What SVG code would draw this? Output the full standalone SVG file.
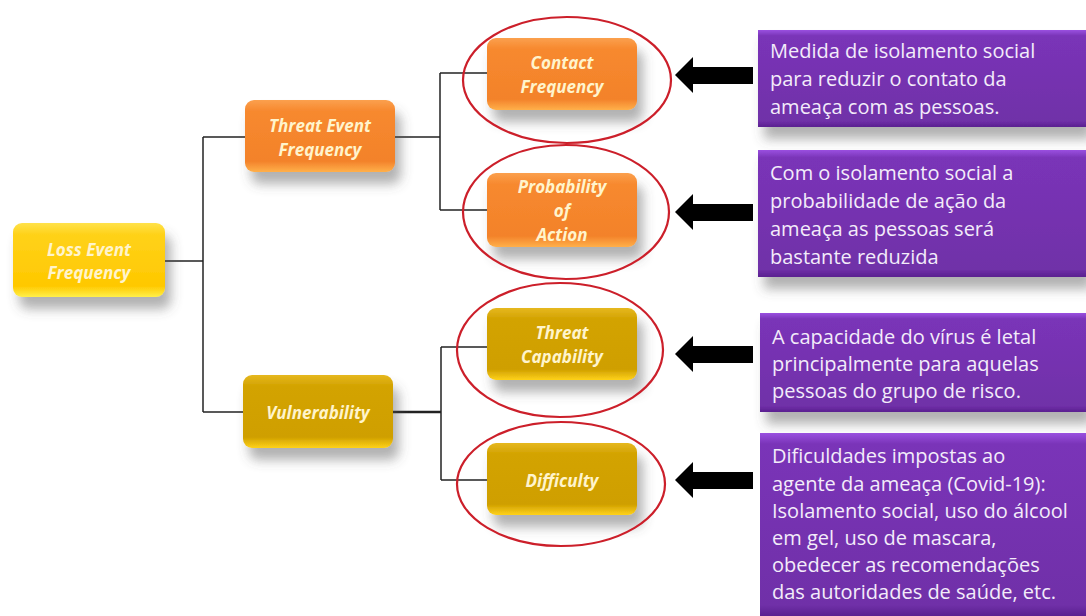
<svg xmlns="http://www.w3.org/2000/svg" width="1086" height="616" viewBox="0 0 1086 616">
<defs>
<linearGradient id="gYellow" x1="0" y1="0" x2="0" y2="1">
<stop offset="0" stop-color="#ffe24a"/><stop offset="0.15" stop-color="#ffd21a"/><stop offset="0.85" stop-color="#ffc800"/><stop offset="1" stop-color="#fff04a"/>
</linearGradient>
<linearGradient id="gOrange" x1="0" y1="0" x2="0" y2="1">
<stop offset="0" stop-color="#fba04e"/><stop offset="0.15" stop-color="#f7892f"/><stop offset="0.85" stop-color="#f3822a"/><stop offset="1" stop-color="#ffb04a"/>
</linearGradient>
<linearGradient id="gGold" x1="0" y1="0" x2="0" y2="1">
<stop offset="0" stop-color="#e6b820"/><stop offset="0.15" stop-color="#d3a300"/><stop offset="0.85" stop-color="#cf9f00"/><stop offset="1" stop-color="#ffd21a"/>
</linearGradient>
<linearGradient id="gPurple" x1="0" y1="0" x2="0" y2="1">
<stop offset="0" stop-color="#9a50e0"/><stop offset="0.06" stop-color="#7a34b8"/><stop offset="0.94" stop-color="#7030a8"/><stop offset="1" stop-color="#5a2090"/>
</linearGradient>
<filter id="sh" x="-20%" y="-20%" width="150%" height="170%">
<feDropShadow dx="6" dy="12" stdDeviation="6" flood-color="#555" flood-opacity="0.45"/>
</filter>
</defs>
<style>
.node text{font-family:"Open Sans","Noto Sans",sans-serif;font-weight:bold;font-style:italic;font-size:17px;fill:#fff4cc;text-anchor:middle}
.conn line{stroke:#222;stroke-width:1.5}
.ell{fill:none;stroke:#cc1f2a;stroke-width:2.2}
.note text{font-family:"Open Sans","Noto Sans",sans-serif;font-size:20px;fill:#f3ecfa}
.arrow{fill:#000}
</style>
<rect width="1086" height="616" fill="#ffffff"/>

<g id="connectors" class="conn">
<line x1="165" y1="261" x2="203" y2="261"/>
<line x1="203" y1="137" x2="203" y2="412"/>
<line x1="203" y1="137" x2="245" y2="137"/>
<line x1="203" y1="412" x2="243" y2="412"/>
<line x1="395" y1="137" x2="440" y2="137"/>
<line x1="440" y1="73" x2="440" y2="210"/>
<line x1="440" y1="73" x2="487" y2="73"/>
<line x1="440" y1="210" x2="487" y2="210"/>
<line x1="393" y1="412" x2="441" y2="412" style="stroke-width:2.5"/>
<line x1="441" y1="347" x2="441" y2="480"/>
<line x1="441" y1="347" x2="487" y2="347"/>
<line x1="441" y1="480" x2="487" y2="480"/>
</g>

<g id="loss-event-frequency" class="node">
<rect x="13" y="223" width="152" height="74" rx="9" fill="url(#gYellow)" filter="url(#sh)"/>
<text x="89" y="256">Loss Event</text>
<text x="89" y="279">Frequency</text>
</g>
<g id="threat-event-frequency" class="node">
<rect x="245" y="100" width="150" height="72" rx="9" fill="url(#gOrange)" filter="url(#sh)"/>
<text x="320" y="132">Threat Event</text>
<text x="320" y="156">Frequency</text>
</g>
<g id="vulnerability" class="node">
<rect x="243" y="375" width="150" height="73" rx="9" fill="url(#gGold)" filter="url(#sh)"/>
<text x="318" y="419">Vulnerability</text>
</g>
<g id="contact-frequency" class="node">
<rect x="487" y="38" width="150" height="72" rx="9" fill="url(#gOrange)" filter="url(#sh)"/>
<text x="562" y="69">Contact</text>
<text x="562" y="93">Frequency</text>
<ellipse class="ell" cx="567" cy="80" rx="104" ry="63"/>
</g>
<g id="probability-of-action" class="node">
<rect x="487" y="173" width="150" height="74" rx="9" fill="url(#gOrange)" filter="url(#sh)"/>
<text x="562" y="193">Probability</text>
<text x="562" y="217">of</text>
<text x="562" y="241">Action</text>
<ellipse class="ell" cx="566" cy="212" rx="103" ry="67"/>
</g>
<g id="threat-capability" class="node">
<rect x="487" y="308" width="150" height="72" rx="9" fill="url(#gGold)" filter="url(#sh)"/>
<text x="562" y="339">Threat</text>
<text x="562" y="363">Capability</text>
<ellipse class="ell" cx="560" cy="350" rx="103" ry="67"/>
</g>
<g id="difficulty" class="node">
<rect x="487" y="443" width="150" height="72" rx="9" fill="url(#gGold)" filter="url(#sh)"/>
<text x="562" y="487">Difficulty</text>
<ellipse class="ell" cx="561" cy="484" rx="104" ry="62"/>
</g>

<g id="arrows">
<polygon class="arrow" points="675,75 693,57 693,67 753,67 753,84 693,84 693,93"/>
<polygon class="arrow" points="675,212 693,194 693,204 753,204 753,221 693,221 693,230"/>
<polygon class="arrow" points="675,354 693,336 693,346 753,346 753,363 693,363 693,372"/>
<polygon class="arrow" points="675,480 693,462 693,472 753,472 753,489 693,489 693,498"/>
</g>

<g id="note-contact" class="note">
<rect x="758" y="30" width="328" height="97" fill="url(#gPurple)" filter="url(#sh)"/>
<text x="770" y="58">Medida de isolamento social</text>
<text x="770" y="86">para reduzir o contato da</text>
<text x="770" y="114">ameaça com as pessoas.</text>
</g>
<g id="note-probability" class="note">
<rect x="758" y="150" width="328" height="127" fill="url(#gPurple)" filter="url(#sh)"/>
<text x="770" y="180">Com o isolamento social a</text>
<text x="770" y="208">probabilidade de ação da</text>
<text x="770" y="236">ameaça as pessoas será</text>
<text x="770" y="264">bastante reduzida</text>
</g>
<g id="note-capability" class="note">
<rect x="760" y="313" width="326" height="99" fill="url(#gPurple)" filter="url(#sh)"/>
<text x="772" y="344">A capacidade do vírus é letal</text>
<text x="772" y="371">principalmente para aquelas</text>
<text x="772" y="398">pessoas do grupo de risco.</text>
</g>
<g id="note-difficulty" class="note">
<rect x="760" y="433" width="326" height="183" fill="url(#gPurple)"/>
<text x="772" y="463">Dificuldades impostas ao</text>
<text x="772" y="491">agente da ameaça (Covid-19):</text>
<text x="772" y="518">Isolamento social, uso do álcool</text>
<text x="772" y="545">em gel, uso de mascara,</text>
<text x="772" y="572">obedecer as recomendações</text>
<text x="772" y="599">das autoridades de saúde, etc.</text>
</g>
</svg>
